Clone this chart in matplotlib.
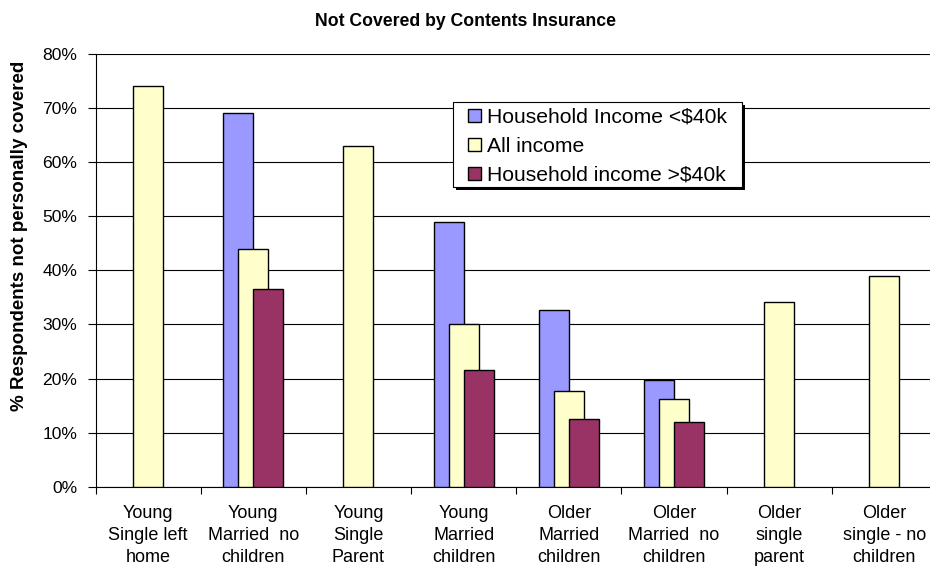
import numpy as np
import matplotlib
matplotlib.use("Agg")
import matplotlib.pyplot as plt
from matplotlib.ticker import FixedLocator, PercentFormatter
from matplotlib.patches import Rectangle

plt.rcParams['font.family'] = ['Liberation Sans', 'DejaVu Sans']

categories = ["Young\nSingle left\nhome", "Young\nMarried  no\nchildren", "Young\nSingle\nParent",
              "Young\nMarried\nchildren", "Older\nMarried\nchildren", "Older\nMarried  no\nchildren",
              "Older\nsingle\nparent", "Older\nsingle - no\nchildren"]
income_low = [np.nan, 69.0, np.nan, 49.0, 32.7, 19.7, np.nan, np.nan]
income_all = [74.0, 44.0, 63.0, 30.0, 17.7, 16.3, 34.2, 38.9]
income_high = [np.nan, 36.5, np.nan, 21.5, 12.5, 12.0, np.nan, np.nan]
series_names = ["Household Income <$40k", "All income", "Household income >$40k"]
yticks = [0, 10, 20, 30, 40, 50, 60, 70, 80]

W, H = 930, 567
fig = plt.figure(figsize=(W / 100, H / 100), dpi=100)
left, right, bottom, top = 95.5, 937, 486.7, 54
ax = fig.add_axes([left / W, 1 - bottom / H, (right - left) / W, (bottom - top) / H])

x = np.arange(len(categories))
bw = 0.285
off = 0.1425
colors = ['#9999FF', '#FFFFCC', '#993366']
for vals, dx, c, name in zip([income_low, income_all, income_high], [-off, 0, off], colors, series_names):
    ax.bar(x + dx, vals, width=bw, color=c, edgecolor='black', linewidth=1.0, label=name, zorder=3)

ax.set_xlim(-0.5, len(categories) - 0.5)
ax.set_ylim(0, 80)
ax.yaxis.set_major_locator(FixedLocator(yticks))
ax.yaxis.set_major_formatter(PercentFormatter(decimals=0))
ax.grid(axis='y', color='black', linewidth=0.8, zorder=0)
ax.set_axisbelow(True)

ax.set_xticks(x)
ax.set_xticklabels(categories, fontsize=13, linespacing=1.4)
ax.set_xticks(np.arange(len(categories) + 1) - 0.5, minor=True)
ax.tick_params(axis='x', which='major', length=0, pad=13)
ax.tick_params(axis='x', which='minor', length=5, width=0.8, direction='out')
ax.tick_params(axis='y', length=6, width=0.8, direction='out', pad=7, labelsize=12.6)

for s in ['top', 'right']:
    ax.spines[s].set_visible(False)
ax.spines['left'].set_linewidth(0.8)
ax.spines['bottom'].set_linewidth(0.8)

fig.text(0.5, 1 - 22 / H, "Not Covered by Contents Insurance", ha='center', va='center',
         fontsize=12.7, fontweight='bold')
fig.text(20 / W, 1 - 236 / H, "% Respondents not personally covered", rotation=90,
         ha='center', va='center', fontsize=13.5, fontweight='bold')

# legend box with shadow
bx0, by0, bx1, by1 = 453, 102, 742, 187
fig.add_artist(Rectangle(((bx0 + 3) / W, 1 - (by1 + 3) / H), (bx1 - bx0) / W, (by1 - by0) / H,
                         transform=fig.transFigure, facecolor='black', edgecolor='none', zorder=4))
fig.add_artist(Rectangle((bx0 / W, 1 - by1 / H), (bx1 - bx0) / W, (by1 - by0) / H,
                         transform=fig.transFigure, facecolor='white', edgecolor='black',
                         linewidth=0.8, zorder=5))

leg = ax.legend(loc='upper left', bbox_to_anchor=(468 / W, 1 - 108 / H), bbox_transform=fig.transFigure,
                borderaxespad=0, fontsize=15.2, frameon=False,
                handlelength=0.62, handleheight=0.62, handletextpad=0.3, labelspacing=0.47,
                borderpad=0)
leg.set_zorder(6)
leg.remove()
fig.add_artist(leg)
for p in leg.get_patches():
    p.set_linewidth(1.0)

fig.savefig("out.png", dpi=100)
